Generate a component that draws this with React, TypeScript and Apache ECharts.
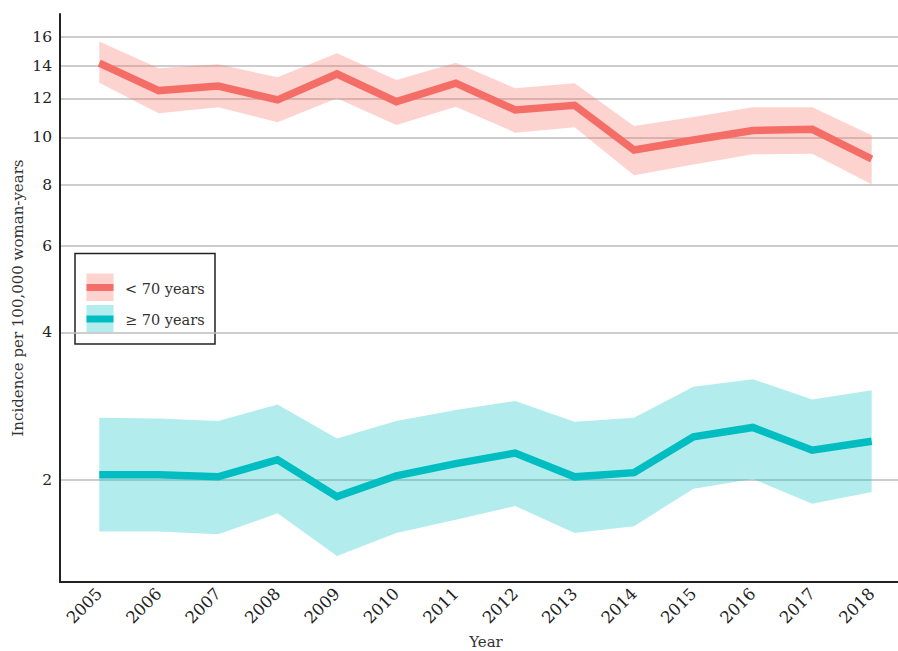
import React, { useEffect, useRef } from "react";
import * as echarts from "echarts";

const years = [2005, 2006, 2007, 2008, 2009, 2010, 2011, 2012, 2013, 2014, 2015, 2016, 2017, 2018];
const under70 = [14.16, 12.45, 12.72, 11.92, 13.46, 11.82, 12.89, 11.37, 11.62, 9.42, 9.87, 10.32, 10.38, 9.03];
const under70Lower = [12.92, 11.19, 11.51, 10.73, 12.01, 10.59, 11.54, 10.22, 10.48, 8.37, 8.8, 9.23, 9.25, 8.02];
const under70Upper = [15.67, 13.82, 14.09, 13.25, 14.83, 13.09, 14.19, 12.59, 12.89, 10.54, 11.0, 11.51, 11.51, 10.1];
const over70 = [2.05, 2.05, 2.03, 2.2, 1.85, 2.04, 2.16, 2.27, 2.03, 2.07, 2.45, 2.56, 2.3, 2.4];
const over70Lower = [1.57, 1.57, 1.55, 1.71, 1.4, 1.56, 1.66, 1.77, 1.56, 1.61, 1.92, 2.01, 1.79, 1.89];
const over70Upper = [2.68, 2.67, 2.64, 2.85, 2.43, 2.64, 2.78, 2.9, 2.63, 2.68, 3.1, 3.21, 2.92, 3.05];
const yTicks = [2, 4, 6, 8, 10, 12, 14, 16];
const legendLabels = ["< 70 years", "\u2265 70 years"];

const RED = "#F46E67";
const RED_BAND = "rgba(248,118,109,0.32)";
const TEAL = "#00BDC2";
const TEAL_BAND = "rgba(0,191,196,0.3)";
const FONT = "DejaVu Serif";

const L = Math.log2;

function bandSeries(lo: number[], hi: number[], color: string) {
  return {
    type: "custom",
    data: [[years[0], L(lo[0])]],
    encode: { x: 0, y: 1 },
    silent: true,
    z: 1,
    renderItem: (_params: any, api: any) => {
      const upper = years.map((y, i) => api.coord([y, L(hi[i])]));
      const lower = years.map((y, i) => api.coord([y, L(lo[i])])).reverse();
      return {
        type: "polygon",
        shape: { points: [...upper, ...lower] },
        style: { fill: color, stroke: "none" },
      };
    },
  };
}

function lineSeries(vals: number[], color: string) {
  return {
    type: "line",
    data: years.map((y, i) => [y, L(vals[i])]),
    symbol: "none",
    lineStyle: { color, width: 7.5, cap: "butt", join: "miter" },
    silent: true,
    z: 3,
  };
}

export default function App() {
  const ref = useRef<HTMLDivElement>(null);
  useEffect(() => {
    if (!ref.current) return;
    const chart = echarts.init(ref.current, undefined, { renderer: "svg" });
    chart.setOption({
      animation: false,
      backgroundColor: "#ffffff",
      grid: { left: 60, right: 0, top: 14, bottom: 69, containLabel: false },
      xAxis: {
        type: "value",
        min: 2004.339,
        max: 2018.443,
        axisLine: { show: true, onZero: false, lineStyle: { color: "#222", width: 2 } },
        axisTick: { show: false, customValues: years },
        splitLine: { show: false },
        axisLabel: {
          customValues: years,
          rotate: 45,
          margin: 9,
          fontFamily: FONT,
          fontSize: 16.5,
          color: "#222",
          formatter: (v: number) => String(Math.round(v)),
        },
      },
      yAxis: {
        type: "value",
        min: 0.309,
        max: 4.157,
        axisLine: { show: true, lineStyle: { color: "#222", width: 2 } },
        axisTick: { show: false, customValues: yTicks.map(L) },
        splitLine: { show: true, lineStyle: { color: "#BDBDBD", width: 1.5 } },
        axisLabel: {
          customValues: yTicks.map(L),
          margin: 8,
          fontFamily: FONT,
          fontSize: 15.5,
          color: "#222",
          formatter: (v: number) => String(Math.round(Math.pow(2, v))),
        },
      },
      series: [
        bandSeries(under70Lower, under70Upper, RED_BAND),
        bandSeries(over70Lower, over70Upper, TEAL_BAND),
        lineSeries(under70, RED),
        lineSeries(over70, TEAL),
      ],
      graphic: [
        {
          type: "text",
          x: 17.5,
          y: 298,
          rotation: Math.PI / 2,
          style: {
            text: "Incidence per 100,000 woman-years",
            fontFamily: FONT,
            fontSize: 15,
            fill: "#333",
            textAlign: "center",
            textVerticalAlign: "middle",
          },
        },
        {
          type: "text",
          x: 486,
          y: 642,
          style: {
            text: "Year",
            fontFamily: FONT,
            fontSize: 15,
            fill: "#333",
            textAlign: "center",
            textVerticalAlign: "middle",
          },
        },
        {
          type: "group",
          z: 100,
          children: [
            {
              type: "rect",
              shape: { x: 75, y: 253.5, width: 140, height: 90.5 },
              style: { fill: "#fff", stroke: "#222", lineWidth: 1.5 },
            },
            {
              type: "rect",
              shape: { x: 86.5, y: 273.5, width: 27, height: 27.5 },
              style: { fill: RED_BAND },
            },
            {
              type: "rect",
              shape: { x: 86.5, y: 284, width: 27, height: 7 },
              style: { fill: RED },
            },
            {
              type: "text",
              x: 125,
              y: 289,
              style: {
                text: legendLabels[0],
                fontFamily: FONT,
                fontSize: 14.5,
                fill: "#333",
                textVerticalAlign: "middle",
              },
            },
            {
              type: "rect",
              shape: { x: 86.5, y: 305, width: 27, height: 27 },
              style: { fill: TEAL_BAND },
            },
            {
              type: "rect",
              shape: { x: 86.5, y: 315.5, width: 27, height: 7 },
              style: { fill: TEAL },
            },
            {
              type: "text",
              x: 125,
              y: 320,
              style: {
                text: legendLabels[1],
                fontFamily: FONT,
                fontSize: 14.5,
                fill: "#333",
                textVerticalAlign: "middle",
              },
            },
          ],
        },
      ],
    });
    return () => chart.dispose();
  }, []);
  return (
    <div
      ref={ref}
      style={{ position: "fixed", left: 0, top: 0, width: 898, height: 651, background: "#fff" }}
    />
  );
}
